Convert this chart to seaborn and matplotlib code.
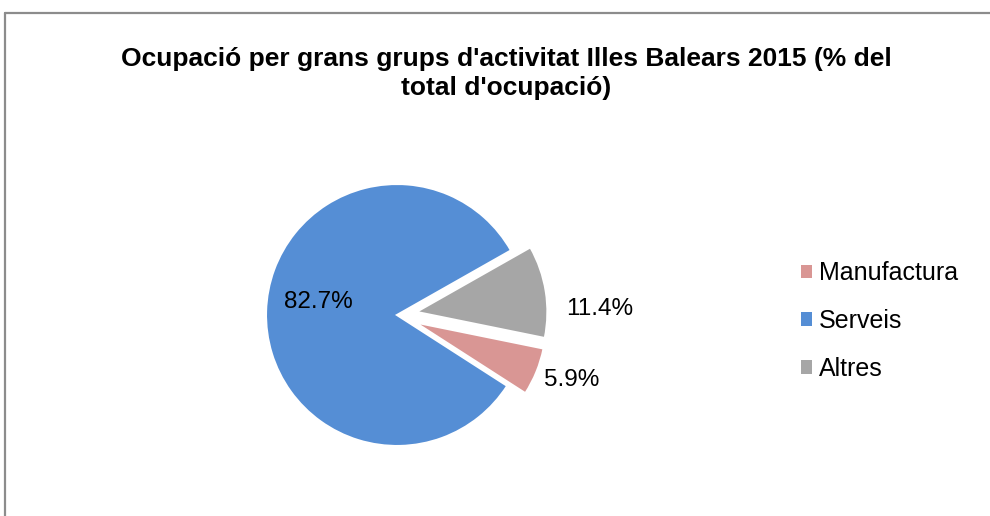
import matplotlib.pyplot as plt
import numpy as np
import seaborn as sns
from matplotlib.lines import Line2D
from matplotlib.patches import Patch

categories = ['Manufactura', 'Serveis', 'Altres']
shares = [5.9, 82.7, 11.4]
colors = ['#D99694', '#558ED5', '#A6A6A6']
title = "Ocupació per grans grups d'activitat Illes Balears 2015 (% del\ntotal d'ocupació)"

sns.set_theme(style='white')
plt.rcParams['font.family'] = ['Liberation Sans', 'DejaVu Sans']

W, H = 990, 516
fig = plt.figure(figsize=(W / 100, H / 100), dpi=100)

# pie axes: centre at (397, 315) px, radius 131 px
cx, cy, r = 397, 315, 131
x0, x1, y0, y1 = 200, 700, 120, 500
ax = fig.add_axes([x0 / W, (H - y1) / H, (x1 - x0) / W, (y1 - y0) / H])
wedges, _ = ax.pie(shares, colors=colors, explode=[0.15, 0, 0.15], startangle=-11.5,
                   counterclock=False, wedgeprops=dict(edgecolor='white', linewidth=1.5))
ax.set_xlim((x0 - cx) / r, (x1 - cx) / r)
ax.set_ylim((cy - y1) / r, (cy - y0) / r)
ax.set_aspect('equal')
ax.axis('off')

# percentage labels, placed along each wedge's middle angle
dist = [1.27, 0.61, 1.4]
tweak = [2, -8, -8]
for w, s, d, t in zip(wedges, shares, dist, tweak):
    ang = np.deg2rad((w.theta1 + w.theta2) / 2 + t)
    ox, oy = w.center
    ax.text(ox + d * np.cos(ang), oy + d * np.sin(ang), f'{s}%', ha='center', va='center',
            fontsize=17.5, color='black')

fig.text(0.511, 0.857, title, ha='center', va='center', fontsize=19, fontweight='bold',
         linespacing=1.28, color='black')

handles = [Patch(facecolor=c, edgecolor='none') for c in colors]
fig.legend(handles, categories, loc='center left', bbox_to_anchor=(778 / W, 1 - 321 / H),
           frameon=False, fontsize=18, handlelength=0.45, handleheight=0.45,
           handletextpad=0.3, labelspacing=0.95, labelcolor='black')

# outer chart frame (only top and left edges visible in the crop)
fig.add_artist(Line2D([5 / W, 1], [1 - 13 / H, 1 - 13 / H], color='#8c8c8c', linewidth=1.6))
fig.add_artist(Line2D([5 / W, 5 / W], [1 - 13 / H, 0], color='#8c8c8c', linewidth=1.6))

fig.savefig('out.png', dpi=100, facecolor='white')
